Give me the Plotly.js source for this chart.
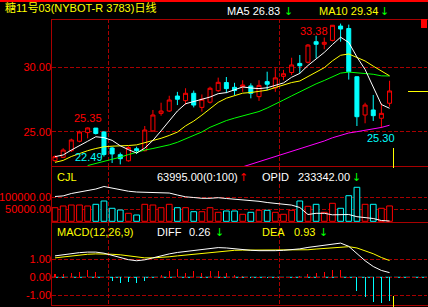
<!DOCTYPE html>
<html><head><meta charset="utf-8">
<script src="https://cdn.plot.ly/plotly-3.0.1.min.js"></script>
<style>html,body{margin:0;padding:0;background:#000;overflow:hidden}#c{width:428px;height:307px}</style>
</head><body><div id="c"></div>
<script>
// ---- data ----
const openP  = [22.78,23.04,23.55,24.28,24.95,25.30,25.00,23.76,23.24,22.77,23.70,23.55,25.08,26.44,26.62,27.78,27.42,27.99,26.90,27.30,28.19,28.82,28.45,28.50,28.56,27.73,28.89,28.40,29.30,29.60,30.30,30.39,31.98,31.78,32.08,33.19,33.00,29.27,26.31,26.70,26.06,27.22];
const highP  = [23.20,23.74,24.48,25.10,25.35,25.30,25.05,23.85,23.40,23.90,23.86,25.46,26.70,27.26,27.80,28.10,28.38,28.20,27.90,28.50,29.20,29.25,28.80,29.00,28.76,29.00,29.66,29.92,29.80,30.74,30.95,31.80,32.44,32.30,33.27,33.38,33.30,29.30,27.26,27.86,27.22,28.96];
const lowP   = [22.70,22.98,23.45,24.20,24.50,24.80,23.10,22.60,22.49,22.70,23.30,23.50,25.00,26.26,26.55,27.08,27.10,26.90,26.57,27.20,28.10,28.00,27.86,28.10,27.60,27.40,28.24,28.10,29.00,29.40,29.54,30.30,30.70,31.40,32.00,31.98,29.05,25.46,25.67,25.85,25.30,26.95];
const closeP = [23.09,23.60,24.38,25.00,25.31,24.88,23.25,23.30,22.93,23.80,23.55,25.15,26.31,26.62,27.47,27.53,27.99,27.08,27.53,28.38,28.84,28.35,28.20,28.63,27.99,28.60,28.69,29.18,29.50,30.18,30.12,31.72,31.78,31.93,33.25,32.96,29.66,26.18,27.08,26.26,26.44,28.17];
const ma5  = [23.09,23.22,23.60,23.91,24.28,24.63,24.56,24.35,23.93,23.63,23.37,23.75,24.35,25.09,25.82,26.62,27.18,27.34,27.52,27.70,27.96,28.04,28.26,28.48,28.40,28.35,28.42,28.62,28.79,29.23,29.53,30.14,30.66,31.15,31.76,32.33,31.92,30.80,29.83,28.43,27.12,26.83];
const ma10 = [22.65,22.80,23.10,23.35,23.55,23.72,23.85,23.90,23.91,23.95,24.00,24.16,24.35,24.51,24.73,24.99,25.47,25.84,26.30,26.76,27.29,27.61,27.80,28.00,28.05,28.16,28.23,28.44,28.64,28.82,28.94,29.28,29.64,29.97,30.50,30.93,31.03,30.73,30.49,30.09,29.73,29.34];
const ma20 = [null,null,null,null,22.40,22.55,22.70,22.85,23.05,23.25,23.45,23.60,23.72,23.85,24.00,24.20,24.45,24.70,25.00,25.36,25.65,25.88,26.07,26.26,26.39,26.58,26.85,27.14,27.47,27.79,28.12,28.45,28.72,28.98,29.27,29.55,29.63,29.58,29.56,29.46,29.34,29.33];
const ma60 = [null,null,null,null,null,null,null,null,null,null,null,null,null,null,null,null,null,null,null,null,null,null,null,22.30,22.50,22.70,22.90,23.08,23.28,23.50,23.70,23.88,24.05,24.30,24.55,24.75,24.92,25.02,25.12,25.22,25.35,25.52];
const volume = [56700,63800,67900,67900,63800,70800,84600,54200,47100,33300,26300,70800,67900,56700,70800,56700,56700,40000,40000,56700,37500,42900,42900,29200,37500,45800,45800,37500,29200,45800,84600,62500,70800,37500,75000,54200,106700,141700,70800,70800,54200,63995];
const openInterest = [294600,296100,302100,306300,309100,313300,319600,315800,311300,307800,305800,305100,305100,305100,303300,298300,293800,292100,290100,290100,291600,289600,287800,286600,285300,282600,279600,277100,274800,273100,267100,249600,252600,252600,248800,248800,249600,244100,242100,239600,234600,233342];
const diff = [1.19,1.26,1.32,1.37,1.40,1.40,1.34,1.22,1.10,0.98,0.92,0.97,1.08,1.20,1.30,1.38,1.44,1.48,1.52,1.58,1.65,1.63,1.58,1.55,1.50,1.48,1.47,1.48,1.50,1.53,1.58,1.66,1.72,1.78,1.87,1.90,1.72,1.30,0.92,0.60,0.38,0.26];
const dea  = [1.08,1.14,1.19,1.24,1.28,1.30,1.30,1.28,1.25,1.19,1.11,1.08,1.08,1.10,1.14,1.19,1.24,1.29,1.33,1.37,1.43,1.47,1.50,1.51,1.51,1.50,1.50,1.49,1.49,1.50,1.51,1.53,1.57,1.61,1.65,1.70,1.70,1.63,1.49,1.31,1.10,0.93];
const macdHist = [0.18,0.20,0.26,0.31,0.41,0.31,0.04,-0.18,-0.33,-0.24,-0.33,-0.18,0.02,0.13,0.37,0.44,0.22,0.37,0.26,0.37,0.37,0.22,0.13,0.07,-0.02,0.02,-0.02,0.02,0.03,0.04,0.06,0.18,0.26,0.31,0.41,0.41,0.02,-0.74,-1.07,-1.35,-1.44,-1.30];
const priceTicks = [25, 30];
const volTicks = [50000, 100000];
const macdTicks = [-1, 0, 1];
const macdTickText = ['-1.00', '0.00', '1.00'];
const monthStarts = [7, 28];
const localHighIdx = 4, localLowIdx = 40;
const titleText = '糖11号03(NYBOT-R 3783)日线';

// ---- geometry helpers ----
const L = 52, R = 1, T = 19, B = 2, FW = 428, FH = 307;
const W = FW - L - R, H = FH - T - B;
const px = x => (x - L) / W;
const py = y => (T + H - y) / H;

const RED = '#ff0000', DRED = '#a80000', CYAN = '#00ffff', YEL = '#ffff00', GRN = '#00ff00', MAG = '#ff00ff', WHITE = '#ffffff';
const FONT = 'Liberation Sans, Arial, sans-serif';
const CJK = 'Liberation Sans, Noto Sans CJK SC, sans-serif';
const FS = 11;

const idx = closeP.map((_, i) => i);
const last = closeP.length - 1;
const upColor = idx.map(i => closeP[i] >= openP[i] ? RED : CYAN);
const histColor = macdHist.map(v => v >= 0 ? RED : CYAN);

const data = [
  {type: 'candlestick', x: idx, open: openP, high: highP, low: lowP, close: closeP, xaxis: 'x', yaxis: 'y',
   increasing: {line: {color: RED, width: 1}, fillcolor: '#000000'},
   decreasing: {line: {color: CYAN, width: 1}, fillcolor: CYAN},
   whiskerwidth: 0, hoverinfo: 'skip', showlegend: false},
  {type: 'scatter', mode: 'lines', x: idx, y: ma60, line: {color: MAG, width: 1}, xaxis: 'x', yaxis: 'y', showlegend: false, hoverinfo: 'skip'},
  {type: 'scatter', mode: 'lines', x: idx, y: ma20, line: {color: GRN, width: 1}, xaxis: 'x', yaxis: 'y', showlegend: false, hoverinfo: 'skip'},
  {type: 'scatter', mode: 'lines', x: idx, y: ma10, line: {color: YEL, width: 1}, xaxis: 'x', yaxis: 'y', showlegend: false, hoverinfo: 'skip'},
  {type: 'scatter', mode: 'lines', x: idx, y: ma5, line: {color: WHITE, width: 1}, xaxis: 'x', yaxis: 'y', showlegend: false, hoverinfo: 'skip'},
  {type: 'bar', x: idx, y: volume, width: 0.7, xaxis: 'x', yaxis: 'y2',
   marker: {color: '#000000', line: {color: upColor, width: 1}}, showlegend: false, hoverinfo: 'skip'},
  {type: 'scatter', mode: 'lines', x: idx, y: openInterest, line: {color: WHITE, width: 1}, xaxis: 'x', yaxis: 'y4', showlegend: false, hoverinfo: 'skip'},
  {type: 'bar', x: idx, y: macdHist, width: 0.13, xaxis: 'x', yaxis: 'y3',
   marker: {color: histColor, line: {width: 0}}, showlegend: false, hoverinfo: 'skip'},
  {type: 'scatter', mode: 'lines', x: idx, y: dea, line: {color: YEL, width: 1}, xaxis: 'x', yaxis: 'y3', showlegend: false, hoverinfo: 'skip'},
  {type: 'scatter', mode: 'lines', x: idx, y: diff, line: {color: WHITE, width: 1}, xaxis: 'x', yaxis: 'y3', showlegend: false, hoverinfo: 'skip'}
];

const yBase = {
  showgrid: true, gridcolor: DRED, griddash: '4px,2px', gridwidth: 1,
  zeroline: false, showline: false, ticks: '', fixedrange: true,
  tickfont: {color: RED, size: FS, family: FONT}, anchor: 'x'
};

const hl = (ypx, x0, x1, color) => ({type: 'line', xref: 'paper', yref: 'paper', x0: px(x0), x1: px(x1), y0: py(ypx + 0.5), y1: py(ypx + 0.5), line: {color: color, width: 1}});
const vl = (xpx, y0, y1, color) => ({type: 'line', xref: 'paper', yref: 'paper', x0: px(xpx + 0.5), x1: px(xpx + 0.5), y0: py(y0), y1: py(y1), line: {color: color, width: 1}});

const shapes = [
  {type: 'rect', xref: 'paper', yref: 'paper', x0: px(0), x1: px(FW), y0: py(2), y1: py(0), fillcolor: RED, line: {width: 0}},
  hl(19, 51, FW, DRED),
  hl(166, 51, FW, DRED),
  hl(222, 51, FW, DRED),
  hl(305, 51, FW, DRED),
  vl(51, 305, 19, DRED),
  {type: 'rect', xref: 'paper', yref: 'paper', x0: px(421), x1: px(427), y0: py(28), y1: py(19), fillcolor: RED, line: {width: 0}},
  {type: 'line', xref: 'paper', yref: 'y3', x0: 0, x1: 1, y0: 0, y1: 0, line: {color: CYAN, width: 1, dash: '7px,2px'}, layer: 'below'},
  vl(393, 148, 168, YEL),
  vl(393, 296, 307, YEL),
  hl(91, 408, 428, YEL)
];

const ann = (text, xpx, ypx, color, xanchor, font) => ({
  text: text, xref: 'paper', yref: 'paper', x: px(xpx), y: py(ypx), xanchor: xanchor || 'left', yanchor: 'middle',
  showarrow: false, font: {color: color, size: FS, family: font || FONT}, borderpad: 0
});
const arrowFont = 'DejaVu Sans, sans-serif';

const annotations = [
  ann(titleText, 4, 8, YEL, 'left', CJK),
  ann('MA5 ' + ma5[last].toFixed(2), 226, 11, WHITE),
  ann('↓', 288, 11, GRN, 'center', arrowFont),
  ann('MA10 ' + ma10[last].toFixed(2), 318, 11, YEL),
  ann('↓', 384.5, 11, GRN, 'center', arrowFont),
  ann('CJL', 56, 177, YEL),
  ann(volume[last].toFixed(2) + '(0:100)', 156, 177, WHITE),
  ann('↑', 243.5, 177, RED, 'center', arrowFont),
  ann('OPID', 261, 177, WHITE),
  ann(openInterest[last].toFixed(2), 297, 177, WHITE),
  ann('↓', 356.5, 177, GRN, 'center', arrowFont),
  ann('MACD(12,26,9)', 56, 232, YEL),
  ann('DIFF', 156, 232, WHITE),
  ann(diff[last].toFixed(2), 188, 232, WHITE),
  ann('↓', 219, 232, GRN, 'center', arrowFont),
  ann('DEA', 261, 232, YEL),
  ann(dea[last].toFixed(2), 293, 232, YEL),
  ann('↓', 323, 232, GRN, 'center', arrowFont)
];

const maxH = Math.max(...highP), maxIdx = highP.indexOf(maxH);
const minL = Math.min(...lowP), minIdx = lowP.indexOf(minL);
const lbl = (text, x, y, color, xa, ya, xs, ys) => ({text: text, xref: 'x', yref: 'y', x: x, y: y, xanchor: xa, yanchor: ya, xshift: xs, yshift: ys, showarrow: false, borderpad: 0, font: {color: color, size: FS, family: FONT}});
annotations.push(
  lbl(maxH.toFixed(2), maxIdx, maxH, RED, 'right', 'top', -12, 0),
  lbl(minL.toFixed(2), minIdx, minL, CYAN, 'right', 'bottom', -16, 0),
  lbl(highP[localHighIdx].toFixed(2), localHighIdx, highP[localHighIdx], RED, 'center', 'bottom', 0, 2),
  lbl(lowP[localLowIdx].toFixed(2), localLowIdx, lowP[localLowIdx], CYAN, 'center', 'top', 0, -3)
);

const layout = {
  width: FW, height: FH,
  margin: {l: L, r: R, t: T, b: B, pad: 0},
  paper_bgcolor: '#000000', plot_bgcolor: '#000000',
  showlegend: false, bargap: 0, boxgap: 0.3,
  xaxis: {range: [-0.3676, 45.588], showgrid: true, gridcolor: DRED, griddash: '4px,2px', gridwidth: 1,
          tickvals: monthStarts.map(m => m - 0.5), showticklabels: false, ticks: '', zeroline: false, showline: false,
          rangeslider: {visible: false}, fixedrange: true, anchor: 'y'},
  yaxis: Object.assign({}, yBase, {domain: [py(166), 1], range: [22.367, 33.735], tickvals: priceTicks, tickformat: '.2f'}),
  yaxis2: Object.assign({}, yBase, {domain: [py(222), py(166)], range: [-2917, 230435], tickvals: volTicks, tickformat: '.2f'}),
  yaxis3: Object.assign({}, yBase, {domain: [0, py(222)], range: [-1.539, 3.072], tickvals: macdTicks, ticktext: macdTickText}),
  yaxis4: {overlaying: 'y2', anchor: 'x', side: 'right', range: [230842, 370842], showgrid: false, zeroline: false,
           showticklabels: false, showline: false, ticks: '', fixedrange: true},
  shapes: shapes,
  annotations: annotations
};

Plotly.newPlot('c', data, layout, {staticPlot: true, displayModeBar: false});
</script>
</body></html>
